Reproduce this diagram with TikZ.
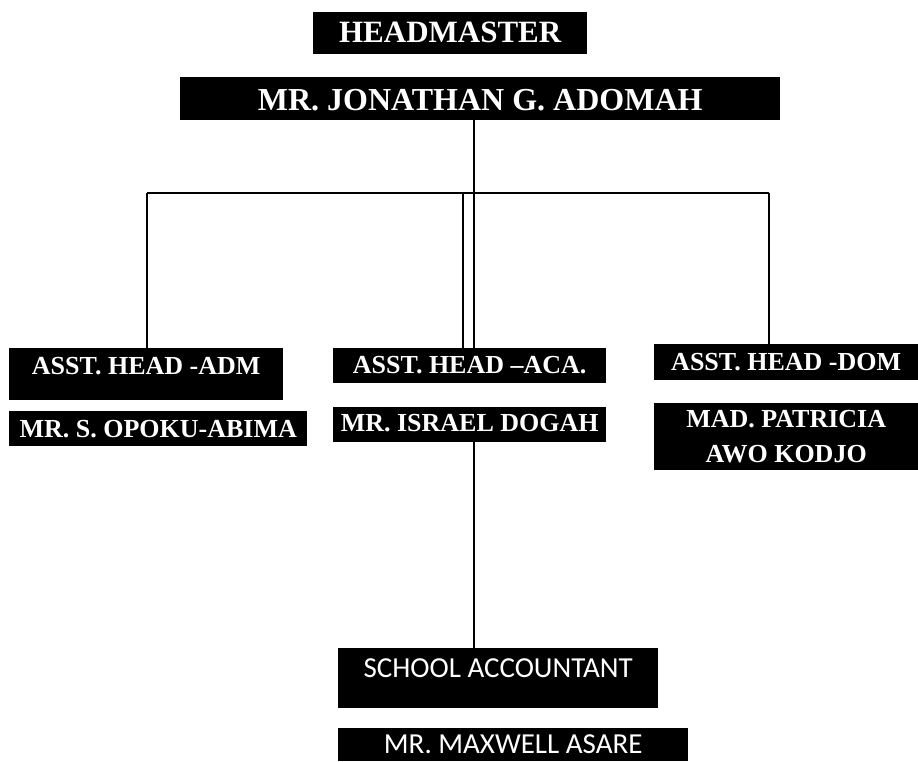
\documentclass[tikz,border=0pt]{standalone}
\usepackage{fontspec}
\setmainfont{Liberation Serif}
\newfontfamily\calfont{Carlito}
\usepackage{tikz}
\usepackage{xcolor}

\begin{document}
\begin{tikzpicture}[x=1pt, y=-1pt,
	every box/.style={fill=black, text=white, inner sep=0pt, anchor=north west},
	serif box/.style={every box, font=\fontsize{26}{35}\selectfont\bfseries},
	cal box/.style={every box, font=\fontsize{29}{35}\selectfont\calfont},
	line/.style={line width=1.5pt}]
	
	\useasboundingbox (0,0) rectangle (918,761);
	
	%head
	\node [every box, font=\fontsize{31}{35}\selectfont\bfseries, minimum width=274, minimum height=42,
	  text height=30, text depth=12] (head) at (313,12) {HEADMASTER};
	\node [every box, font=\fontsize{32}{35}\selectfont\bfseries, minimum width=600, minimum height=43,
	  text height=33, text depth=10] (jon) at (180,77) {MR. JONATHAN G. ADOMAH};
	
	%ASST
	\node [serif box, minimum width=274, minimum height=52, text height=26, text depth=26] (adm) at (9,348) {ASST. HEAD -ADM};
	\node [serif box, minimum width=298, minimum height=35, text height=26, text depth=9] (opoku) at (9,411) {MR. S. OPOKU-ABIMA};
	
	\node [serif box, minimum width=273, minimum height=35, text height=25, text depth=10] (aca) at (333,348) {ASST. HEAD --ACA.};
	\node [serif box, minimum width=273, minimum height=35, text height=24, text depth=11] (dogah) at (333,407) {MR. ISRAEL DOGAH};
	
	\node [serif box, minimum width=264, minimum height=36, text height=26, text depth=10] (dom) at (654,344) {ASST. HEAD -DOM};
	\node [serif box, minimum width=264, minimum height=67, align=center] (patricia) at (654,403) {MAD. PATRICIA\\AWO KODJO};
	
	%accountant
	\node [cal box, minimum width=320, minimum height=60, text height=29, text depth=31] (acct) at (338,648) {SCHOOL ACCOUNTANT};
	\node [cal box, minimum width=350, minimum height=33, text height=25, text depth=8] (maxwell) at (338,728) {MR. MAXWELL ASARE};
	
	%bar
	\coordinate (bar-l) at (147,193);
	\coordinate (bar-m) at (463,193);
	\coordinate (bar-r) at (769,193);
	\coordinate (spine) at (474,0);
	
	\draw [line] (bar-l) -- (bar-r);
	\foreach \n/\c in {adm/bar-l, aca/bar-m, dom/bar-r}
	  \draw [line] (\c) -- (\c |- \n.north);
	\draw [line, line width=2.2pt] (bar-l) -- (bar-l |- adm.north);
	
	\draw [line] (jon.south -| spine) -- (aca.north -| spine);
	\draw [line] (dogah.south -| spine) -- (acct.north -| spine);
	\end{tikzpicture}
\end{document}
